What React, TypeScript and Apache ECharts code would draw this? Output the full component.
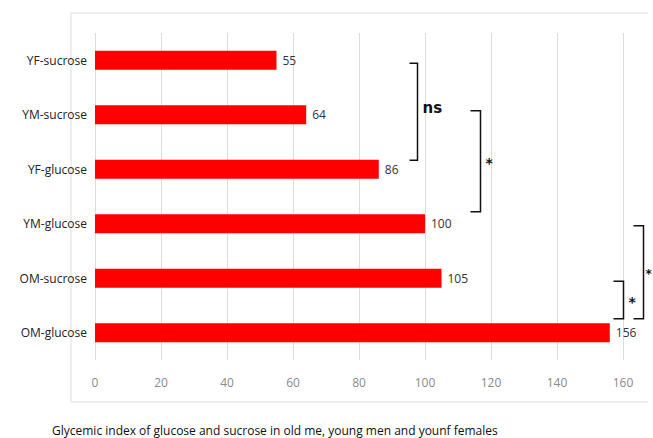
import React, { useEffect, useRef } from "react";
import * as echarts from "echarts";

const categories = ["YF-sucrose", "YM-sucrose", "YF-glucose", "YM-glucose", "OM-sucrose", "OM-glucose"];
const values = [55, 64, 86, 100, 105, 156];
const xTicks = { min: 0, max: 160, interval: 20 };
const title = "Glycemic index of glucose and sucrose in old me, young men and younf females";
// significance brackets: from/to category, x position (data units), pixel offsets at ends, label
const brackets = [
  { from: "YF-sucrose", to: "YF-glucose", x: 97.6, off1: 3, off2: -9, label: "ns" },
  { from: "YM-sucrose", to: "YM-glucose", x: 116.7, off1: -4, off2: -12, label: "*" },
  { from: "OM-sucrose", to: "OM-glucose", x: 160, off1: 3, off2: -14, label: "*" },
  { from: "YM-glucose", to: "OM-glucose", x: 166, off1: 2, off2: -14, label: "*" },
];

const FONT = "'Open Sans', 'Noto Sans', sans-serif";

export default function App() {
  const ref = useRef<HTMLDivElement>(null);
  useEffect(() => {
    if (!ref.current) return;
    const chart = echarts.init(ref.current, null, { renderer: "svg" });
    chart.setOption({
      animation: false,
      textStyle: { fontFamily: FONT },
      grid: { left: 95, right: 30, top: 33, bottom: 78 },
      xAxis: {
        type: "value",
        min: xTicks.min,
        max: xTicks.max,
        interval: xTicks.interval,
        axisLine: { show: false },
        axisTick: { show: false },
        splitLine: { lineStyle: { color: "#dcdcdc", width: 1 } },
        axisLabel: { color: "#8a8a8a", fontSize: 12, margin: 16, fontFamily: FONT },
      },
      yAxis: {
        type: "category",
        inverse: true,
        data: categories,
        axisLine: { show: false },
        axisTick: { show: false },
        axisLabel: { color: "#222", fontSize: 12, margin: 8, fontFamily: FONT },
      },
      series: [
        {
          type: "bar",
          data: values,
          barWidth: 19,
          itemStyle: { color: "#ff0000" },
          label: {
            show: true,
            position: "right",
            distance: 6,
            color: "#333",
            fontSize: 12,
            fontFamily: FONT,
          },
        },
      ],
    });

    const elements: any[] = [
      { type: "line", shape: { x1: 71, y1: 13, x2: 648, y2: 13 }, style: { stroke: "#dddddd", lineWidth: 1 } },
      { type: "line", shape: { x1: 71, y1: 13, x2: 71, y2: 402 }, style: { stroke: "#dddddd", lineWidth: 1 } },
      { type: "line", shape: { x1: 71, y1: 402, x2: 648, y2: 402 }, style: { stroke: "#dddddd", lineWidth: 1 } },
      {
        type: "text",
        x: 52,
        y: 430,
        style: { text: title, fontSize: 12, fill: "#111", fontFamily: FONT, verticalAlign: "middle" },
      },
    ];
    brackets.forEach((b, i) => {
      const p1 = chart.convertToPixel({ gridIndex: 0 }, [b.x, b.from]) as number[];
      const p2 = chart.convertToPixel({ gridIndex: 0 }, [b.x, b.to]) as number[];
      const x = Math.round(p1[0]) + 0.5;
      const y1 = p1[1] + b.off1;
      const y2 = p2[1] + b.off2;
      const tick = b.label === "ns" ? 8 : 10;
      elements.push({
        type: "polyline",
        shape: { points: [[x - tick, y1], [x, y1], [x, y2], [x - tick, y2]] },
        style: { stroke: "#111", lineWidth: 1.5, fill: null },
      });
      const isNs = b.label === "ns";
      const last = i === brackets.length - 1;
      elements.push({
        type: "text",
        x: x + (isNs ? 5 : last ? 2 : 5),
        y: (y1 + y2) / 2 + (isNs ? -4 : 2),
        style: {
          text: b.label,
          fontSize: isNs ? 15 : last ? 12 : 14,
          fontWeight: "bold",
          fill: "#111",
          fontFamily: "'DejaVu Sans', sans-serif",
          verticalAlign: "middle",
        },
      });
    });
    chart.setOption({ graphic: elements });
    return () => chart.dispose();
  }, []);
  return <div ref={ref} style={{ position: "absolute", left: 0, top: 0, width: 653, height: 438 }} />;
}
